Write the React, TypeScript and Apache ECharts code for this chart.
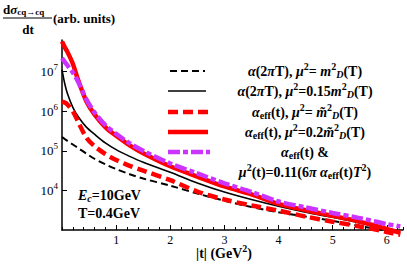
import React, { useEffect, useRef } from 'react';
import * as echarts from 'echarts';

// |t| in GeV^2
const tValues = [0, 0.05, 0.1, 0.2, 0.3, 0.45, 0.6, 0.8, 1.0, 1.25, 1.5, 2.0, 2.5, 3.0, 3.5, 4.0, 4.5, 5.0, 5.5, 6.0, 6.25];

// log10 of dσ/dt (arb. units)
const blackDashedLog = [5.35, 5.3, 5.25, 5.16, 5.07, 4.93, 4.8, 4.66, 4.54, 4.41, 4.3, 4.12, 3.92, 3.74, 3.58, 3.45, 3.34, 3.23, 3.1, 2.99, null];
const blackSolidLog = [7.05, 6.7, 6.45, 6.1, 5.86, 5.6, 5.42, 5.2, 5.03, 4.86, 4.71, 4.46, 4.19, 3.96, 3.77, 3.6, 3.45, 3.32, 3.18, 3.0, 2.94];
const redDashedLog = [6.24, 6.22, 6.17, 6.0, 5.73, 5.33, 5.12, 4.92, 4.77, 4.62, 4.5, 4.26, 3.97, 3.77, 3.62, 3.49, 3.34, 3.21, 3.09, 2.95, 2.88];
const redSolidLog = [7.76, 7.62, 7.5, 7.2, 6.78, 6.25, 5.92, 5.6, 5.38, 5.14, 4.94, 4.61, 4.35, 4.1, 3.9, 3.66, 3.5, 3.36, 3.21, 3.03, 2.93];
const purpleLog = [7.34, 7.25, 7.16, 6.98, 6.74, 6.3, 5.97, 5.65, 5.43, 5.19, 5.0, 4.68, 4.43, 4.18, 3.96, 3.72, 3.57, 3.43, 3.3, 3.15, 3.09];

const yTickValues = [1e4, 1e5, 1e6, 1e7];
const xTickLabels = [1, 2, 3, 4, 5, 6];

const FONT = '"Liberation Serif", "Times New Roman", serif';
const PURPLE = '#cc33ff';

const toData = (logs: (number | null)[]) =>
  tValues
    .map((t, i) => (logs[i] == null ? null : [t, Math.pow(10, logs[i] as number)]))
    .filter((p) => p !== null);

const mkRich = (fs: number, ss: number) => ({
  n: { fontFamily: FONT, fontWeight: 'bold', fontSize: fs, fill: '#000' },
  i: { fontFamily: FONT, fontWeight: 'bold', fontStyle: 'italic', fontSize: fs, fill: '#000' },
  sup: { fontFamily: FONT, fontWeight: 'bold', fontSize: ss, fill: '#000', padding: [0, 0, 9, 0] },
  sub: { fontFamily: FONT, fontWeight: 'bold', fontSize: ss, fill: '#000', padding: [6, 0, 0, 0] },
  subi: { fontFamily: FONT, fontWeight: 'bold', fontStyle: 'italic', fontSize: ss, fill: '#000', padding: [6, 0, 0, 0] },
});
const richTitle = mkRich(13, 9);
const richText = mkRich(14, 10);

const legendRows = [
  { text: '{i|α}{n|(2}{i|π}{n|T), }{i|μ}{sup|2}{n|= }{i|m}{sup|2}{subi|D}{n|(T)}', color: '#000', width: 2, dash: [7, 4] as number[] | null, x1: 170, x2: 205, y: 71 },
  { text: '{i|α}{n|(2}{i|π}{n|T), }{i|μ}{sup|2}{n|=0.15}{i|m}{sup|2}{subi|D}{n|(T)}', color: '#000', width: 1.6, dash: null, x1: 168, x2: 206, y: 91 },
  { text: '{i|α}{sub|eff}{n|(t), }{i|μ}{sup|2}{n|= }{i|m\u0303}{sup|2}{subi|D}{n|(T)}', color: '#ff0000', width: 4.5, dash: [10, 5], x1: 168, x2: 208, y: 112 },
  { text: '{i|α}{sub|eff}{n|(t), }{i|μ}{sup|2}{n|=0.2}{i|m\u0303}{sup|2}{subi|D}{n|(T)}', color: '#ff0000', width: 4.5, dash: null, x1: 168, x2: 208, y: 132 },
  { text: '{i|α}{sub|eff}{n|(t) &}', color: PURPLE, width: 4.5, dash: [12, 3, 5, 3], x1: 168, x2: 210, y: 152 },
];

export default function App() {
  const ref = useRef<HTMLDivElement>(null);
  useEffect(() => {
    if (!ref.current) return;
    const chart = echarts.init(ref.current, null, { renderer: 'svg' });

    const lineSeries = (name: string, logs: (number | null)[], color: string, width: number, dash: any) => ({
      name,
      type: 'line',
      data: toData(logs),
      showSymbol: false,
      symbol: 'none',
      smooth: 0.3,
      clip: false,
      lineStyle: { color, width, type: dash || 'solid', cap: 'butt' },
      xAxisIndex: 0,
      yAxisIndex: 0,
    });

    const graphics: any[] = [
      // y axis title as a fraction
      { type: 'text', x: 3, y: 9, style: { text: '{n|d}{i|σ}{sub|cq→cq}', rich: richTitle, align: 'left', verticalAlign: 'middle' } },
      { type: 'line', shape: { x1: 3, y1: 18, x2: 52, y2: 18 }, style: { stroke: '#000', lineWidth: 1 } },
      { type: 'text', x: 28, y: 29, style: { text: '{n|dt}', rich: richTitle, align: 'center', verticalAlign: 'middle' } },
      { type: 'text', x: 53, y: 18, style: { text: '{n|(arb. units)}', rich: richTitle, align: 'left', verticalAlign: 'middle' } },
      // x axis title
      { type: 'text', x: 224, y: 253, style: { text: '{n||t| (GeV}{sup|2}{n|)}', rich: richText, align: 'center', verticalAlign: 'middle' } },
      // annotations
      { type: 'text', x: 78, y: 195, style: { text: '{i|E}{subi|c}{n|=10GeV}', rich: richText, align: 'left', verticalAlign: 'middle' } },
      { type: 'text', x: 78, y: 213, style: { text: '{n|T=0.4GeV}', rich: richText, align: 'left', verticalAlign: 'middle' } },
      // second row of purple legend entry
      { type: 'text', x: 305, y: 172, style: { text: '{i|μ}{sup|2}{n|(t)=0.11(6}{i|π α}{sub|eff}{n|(t)}{i|T}{sup|2}{n|)}', rich: richText, align: 'center', verticalAlign: 'middle' } },
    ];
    legendRows.forEach((r) => {
      graphics.push({
        type: 'line',
        shape: { x1: r.x1, y1: r.y, x2: r.x2, y2: r.y },
        style: { stroke: r.color, lineWidth: r.width, lineDash: r.dash || undefined },
      });
      graphics.push({
        type: 'text',
        x: 305,
        y: r.y,
        style: { text: r.text, rich: richText, align: 'center', verticalAlign: 'middle' },
      });
    });

    chart.setOption({
      animation: false,
      backgroundColor: '#fff',
      grid: { left: 62, right: 4, top: 40, bottom: 37, containLabel: false, outerBoundsMode: 'none' },
      xAxis: [
        {
          type: 'value',
          min: 0,
          max: 6.3,
          interval: 1,
          position: 'bottom',
          axisLine: { show: true, onZero: false, lineStyle: { color: '#000', width: 1.5 } },
          axisTick: { show: true, inside: true, length: 5, lineStyle: { color: '#000', width: 1 }, customValues: xTickLabels },
          axisLabel: {
            show: true,
            margin: 4,
            customValues: xTickLabels,
            formatter: (v: number) => String(v),
            color: '#000',
            fontFamily: FONT,
            fontSize: 12,
          },
          splitLine: { show: false },
        },
        {
          type: 'value',
          min: 0,
          max: 6.3,
          interval: 0.2,
          position: 'bottom',
          axisLine: { show: false, onZero: false },
          axisTick: { show: true, inside: true, length: 3, lineStyle: { color: '#000', width: 1 } },
          axisLabel: { show: false },
          splitLine: { show: false },
        },
      ],
      yAxis: {
        type: 'log',
        logBase: 10,
        min: 1000,
        max: Math.pow(10, 7.8),
        axisLine: { show: true, lineStyle: { color: '#000', width: 1.5 } },
        axisTick: { show: true, inside: true, length: 5, lineStyle: { color: '#000', width: 1 }, customValues: yTickValues },
        axisLabel: {
          show: true,
          margin: 4,
          customValues: yTickValues,
          formatter: (v: number) => `{b|10}{s|${Math.round(Math.log10(v))}}`,
          rich: {
            b: { fontFamily: FONT, fontSize: 13, color: '#000' },
            s: { fontFamily: FONT, fontSize: 9, color: '#000', padding: [0, 0, 9, 0] },
          },
        },
        splitLine: { show: false },
        minorTick: { show: false },
      },
      series: [
        lineSeries('bd', blackDashedLog, '#000', 2, [7, 4]),
        lineSeries('bs', blackSolidLog, '#000', 1.6, null),
        lineSeries('rd', redDashedLog, '#ff0000', 4.5, [10, 5]),
        lineSeries('rs', redSolidLog, '#ff0000', 4.5, null),
        lineSeries('pp', purpleLog, PURPLE, 4.5, [12, 3, 5, 3]),
      ],
      graphic: graphics,
    });
    return () => chart.dispose();
  }, []);
  return <div ref={ref} style={{ width: 407, height: 267, position: 'absolute', left: 0, top: 0 }} />;
}
